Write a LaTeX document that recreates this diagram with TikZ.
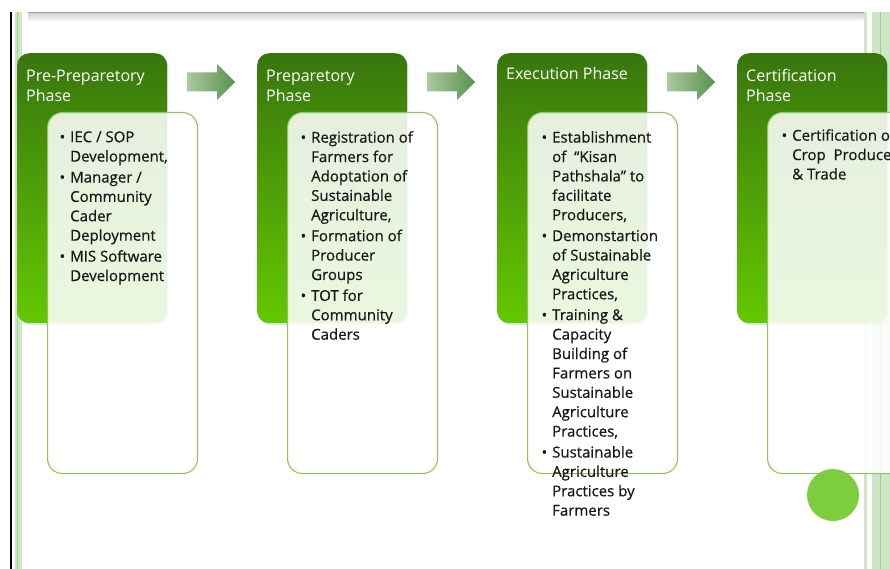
\documentclass[tikz,border=0pt]{standalone}
\usepackage{fontspec}
\setmainfont{Open Sans}
\newfontfamily\listfont{Open Sans}[FakeBold=0.6]
\usetikzlibrary{shadows}

\definecolor{phasetop}{RGB}{56,118,14}
\definecolor{phasebottom}{RGB}{100,200,0}
\definecolor{boxline}{RGB}{140,200,90}
\definecolor{arrowleft}{RGB}{172,200,160}
\definecolor{arrowright}{RGB}{88,146,76}
\definecolor{sideband}{RGB}{205,230,195}
\definecolor{sidedark}{RGB}{160,205,140}
\definecolor{dotgreen}{RGB}{125,205,60}
\definecolor{bodytext}{RGB}{25,25,25}

\newcommand{\itm}{\llap{\textbullet\hspace{5pt}}}

\begin{document}
\begin{tikzpicture}[x=1pt, y=-1pt,
    phase/.style={anchor=north west, minimum width=150pt, minimum height=270pt,
        rounded corners=12pt, top color=phasetop, bottom color=phasebottom,
        drop shadow={opacity=0.2, shadow xshift=1pt, shadow yshift=-2pt}},
    listbox/.style={anchor=north west, minimum width=150pt, minimum height=361pt,
        rounded corners=15pt, draw=boxline, line width=1.1pt, fill=white, fill opacity=0.87},
    title/.style={anchor=north west, inner sep=0pt, align=left, text=white,
        font={\fontsize{16}{20}\selectfont}},
    body/.style={anchor=north west, inner sep=0pt, align=left, text=bodytext,
        font={\listfont\fontsize{15}{19.4}\selectfont}},
    flow/.style={left color=arrowleft, right color=arrowright}]

    \useasboundingbox (0,0) rectangle (890,569);
    \clip (0,0) rectangle (890,569);
    \fill [white] (0,0) rectangle (890,569);

    \shade [top color=black!18, bottom color=white] (28,13) rectangle (865,22);
    \draw [gray!75, line width=1.4pt] (28,12.5) -- (865,12.5);
    \draw [black, line width=2pt] (11,12) -- (11,569);
    \fill [sideband] (15,12) rectangle (22,569);
    \draw [sidedark, line width=1pt] (17.5,12) -- (17.5,569);
    \fill [sideband] (864,12) rectangle (867,569);
    \fill [sideband] (872,12) rectangle (890,569);
    \draw [sidedark, line width=1.5pt] (880.5,12) -- (880.5,569);

    \node [phase] (pre) at (17,53) {};
    \node [phase] (prep) at (257,53) {};
    \node [phase] (exec) at (497,53) {};
    \node [phase] (cert) at (737,53) {};

    \node [title] (pre title) at (26,69) {\rule{0pt}{12pt}Pre-Preparetory\\Phase};
    \node [title] (prep title) at (266,69) {\rule{0pt}{12pt}Preparetory\\Phase};
    \node [title] (exec title) at (506,67) {\rule{0pt}{12pt}Execution Phase};
    \node [title] (cert title) at (746,69) {\rule{0pt}{12pt}Certification\\Phase};

    \coordinate (a1) at (187,82);
    \coordinate (a2) at (427,82);
    \coordinate (a3) at (667,82);
    \shade [flow] (a1) ++ (0,-9.5) -- ++ (30,0) -- ++ (0,-8.5) -- ++ (18,18)
        -- ++ (-18,18) -- ++ (0,-8.5) -- ++ (-30,0) -- cycle;
    \shade [flow] (a2) ++ (0,-9.5) -- ++ (30,0) -- ++ (0,-8.5) -- ++ (18,18)
        -- ++ (-18,18) -- ++ (0,-8.5) -- ++ (-30,0) -- cycle;
    \shade [flow] (a3) ++ (0,-9.5) -- ++ (30,0) -- ++ (0,-8.5) -- ++ (18,18)
        -- ++ (-18,18) -- ++ (0,-8.5) -- ++ (-30,0) -- cycle;

    \node [listbox] (pre box) at (47,112) {};
    \node [listbox] (prep box) at (287,112) {};
    \node [listbox] (exec box) at (527,112) {};
    \node [listbox] (cert box) at (767,112) {};

    \node [body] (pre list) at (70,131) {\rule{0pt}{11pt}\itm IEC / SOP\\Development,\\[1.5pt]
        \itm Manager /\\Community\\Cader\\Deployment\\[1.5pt]
        \itm MIS Software\\Development};

    \node [body] (prep list) at (311,131) {\rule{0pt}{11pt}\itm Registration of\\Farmers for\\Adoptation of\\Sustainable\\Agriculture,\\[1.5pt]
        \itm Formation of\\Producer\\Groups\\[1.5pt]
        \itm TOT for\\Community\\Caders};

    \node [body] (exec list) at (552,131) {\rule{0pt}{11pt}\itm Establishment\\of \ “Kisan\\Pathshala” to\\facilitate\\Producers,\\[1.5pt]
        \itm Demonstartion\\of Sustainable\\Agriculture\\Practices,\\[1.5pt]
        \itm Training \&\\Capacity\\Building of\\Farmers on\\Sustainable\\Agriculture\\Practices,\\[1.5pt]
        \itm Sustainable\\Agriculture\\Practices by\\Farmers};

    \node [body] (cert list) at (792,129) {\rule{0pt}{11pt}\itm Certification of\\Crop \ Produce\\\& Trade};

    \node [circle, fill=dotgreen, minimum size=52pt, inner sep=0pt] (dot) at (833,495) {};

\end{tikzpicture}
\end{document}
